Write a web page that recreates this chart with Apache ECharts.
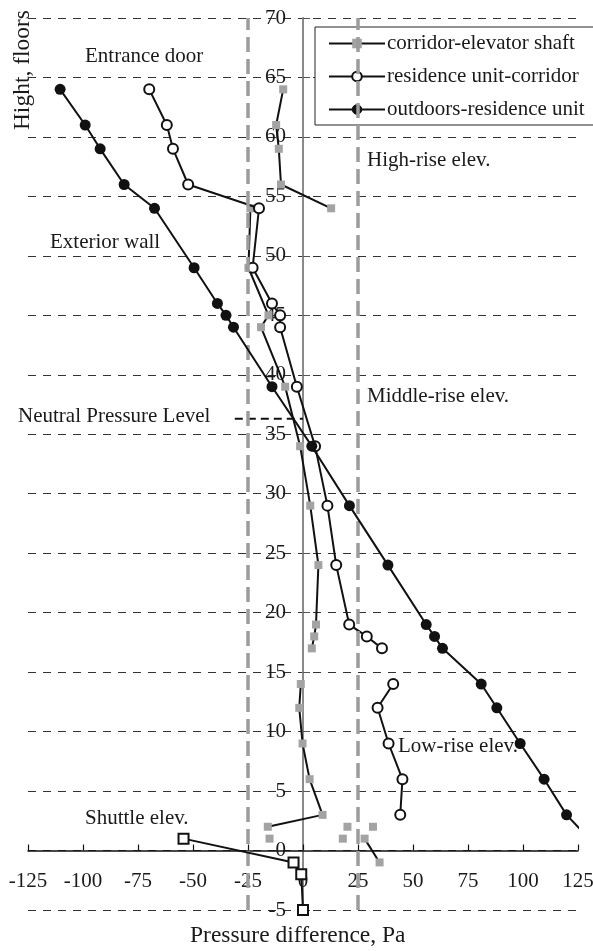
<!DOCTYPE html>
<html><head><meta charset="utf-8">
<script src="https://cdn.jsdelivr.net/npm/echarts@6/dist/echarts.min.js"></script>
<style>html,body{margin:0;padding:0;background:#fff}#c{width:593px;height:951px}</style>
</head><body><div id="c"></div>
<script>
// ---- data ----
const shaftFloors = [64,61,59,56,54,null,54,49,45,44,39,34,29,24,19,18,17,null,14,12,9,6,3,2,null,1,null,2,null,1,null,2,null,1,-1];
const shaftPa     = [-9.0,-12.2,-11.0,-10.0,12.8,null,-23.9,-24.8,-15.7,-19.1,-8.1,-1.3,3.3,7.0,5.9,5.1,4.0,null,-1.0,-1.7,-0.2,3.0,8.9,-16.0,null,-15.2,null,20.2,null,18.1,null,31.8,null,28.0,34.8];

const corridorFloors = [64,61,59,56,54,49,46,45,44,39,34,29,24,19,18,17,null,14,12,9,6,3];
const corridorPa     = [-69.9,-61.9,-59.1,-52.2,-20.0,-22.9,-14.1,-10.4,-10.4,-2.8,5.5,11.1,15.1,21.0,29.0,35.9,null,41.0,33.9,38.9,45.2,44.2];

const outdoorFloors = [64,61,59,56,54,49,46,45,44,39,34,29,24,19,18,17,14,12,9,6,3,1.5];
const outdoorPa     = [-110.4,-99.0,-92.2,-81.3,-67.5,-49.5,-38.9,-35.0,-31.6,-14.1,4.0,21.1,38.6,56.0,59.8,63.4,81.0,88.1,98.7,109.6,119.8,127.5];
const outdoorHiddenLast = true; // the line runs off the chart; its last marker is not shown

const shuttleFloors = [1,-1,-2,-5];
const shuttlePa     = [-54.3,-4.3,-0.8,0];

const zoneBounds = [-25, 25];          // grey dashed verticals
const nplFloor = 36.3;                 // neutral pressure level
const nplPa = [-31, 0];

const xTicks = {min:-125, max:125, interval:25};
const yTicks = {min:-5, max:70, interval:5};

const seriesNames = ['corridor-elevator shaft','residence unit-corridor','outdoors-residence unit'];

// ---- helpers ----
function pairs(xs, ys){ return xs.map((x,i)=> (x===null||ys[i]===null) ? '-' : [x, ys[i]]); }

const FONT = 'Liberation Serif';
const INK = '#1a1a1a';
const GRID = {left:28, right:15, top:18, bottom:41};
const H = 951;

const outdoorData = pairs(outdoorPa, outdoorFloors).map((d,i,arr)=>
  (outdoorHiddenLast && i===arr.length-1) ? {value:d, symbolSize:0} : d);

const txt = (t, left, top, size) => ({type:'text', left, top, style:{text:t, font:size+'px "Liberation Serif"', fill:INK}});

const chart = echarts.init(document.getElementById('c'), null, {renderer:'canvas'});
chart.setOption({
  animation:false,
  backgroundColor:'#fff',
  grid:Object.assign({containLabel:false, outerBoundsMode:'none'}, GRID),
  textStyle:{fontFamily:FONT},
  legend:{
    data:[
      {name:seriesNames[0], itemStyle:{color:'#a3a3a3', borderWidth:0}},
      {name:seriesNames[1], itemStyle:{color:'#fff', borderColor:'#111', borderWidth:2}},
      {name:seriesNames[2], itemStyle:{color:'#111', borderColor:'#111', borderWidth:1}}
    ],
    orient:'vertical',
    left:315, top:27,
    backgroundColor:'#fff',
    borderColor:'#222', borderWidth:1, borderRadius:0,
    padding:[6,12,5,13],
    itemGap:12, itemWidth:56, itemHeight:12,
    textStyle:{fontFamily:FONT, fontSize:21, color:INK, padding:[0,0,0,-3]}
  },
  xAxis:{
    type:'value', min:xTicks.min, max:xTicks.max, interval:xTicks.interval,
    axisLine:{onZero:false, lineStyle:{color:'#111', width:1.5}},
    axisTick:{inside:true, length:6, lineStyle:{color:'#111', width:1.2}},
    axisLabel:{margin:20, fontFamily:FONT, fontSize:21, color:INK},
    splitLine:{show:false}
  },
  yAxis:{
    type:'value', min:yTicks.min, max:yTicks.max, interval:yTicks.interval,
    axisLine:{onZero:false, lineStyle:{color:'#8a8a8a', width:2}},
    axisTick:{inside:true, length:7, lineStyle:{color:'#555', width:1}},
    axisLabel:{margin:17, fontFamily:FONT, fontSize:21, color:INK},
    splitLine:{show:true, lineStyle:{color:'#333', width:1, type:[8,7]}}
  },
  series:[
    {
      name:seriesNames[0], type:'line', data:pairs(shaftPa, shaftFloors),
      symbol:'rect', symbolSize:8, showSymbol:true, showAllSymbol:true, connectNulls:false,
      lineStyle:{color:'#111', width:2},
      itemStyle:{color:'#a3a3a3', borderWidth:0},
      z:3,
      markLine:{
        silent:true, symbol:'none', label:{show:false},
        lineStyle:{color:'#9c9c9c', width:3.5, type:[15,7]},
        data: zoneBounds.map(v=>({xAxis:v}))
      }
    },
    {
      name:seriesNames[1], type:'line', data:pairs(corridorPa, corridorFloors),
      symbol:'circle', symbolSize:10, showAllSymbol:true, connectNulls:false,
      lineStyle:{color:'#111', width:2},
      itemStyle:{color:'#fff', borderColor:'#111', borderWidth:2},
      z:4
    },
    {
      name:seriesNames[2], type:'line', data:outdoorData,
      symbol:'circle', symbolSize:11, showAllSymbol:true, clip:false,
      lineStyle:{color:'#111', width:2},
      itemStyle:{color:'#111', borderColor:'#111', borderWidth:0},
      z:5
    },
    {
      name:'shuttle', type:'line', data:pairs(shuttlePa, shuttleFloors),
      symbol:'rect', symbolSize:10, showAllSymbol:true, clip:false,
      lineStyle:{color:'#111', width:2},
      itemStyle:{color:'#fff', borderColor:'#111', borderWidth:2},
      z:5
    },
    {
      name:'npl', type:'line', data:nplPa.map(x=>[x, nplFloor]),
      symbol:'none', lineStyle:{color:'#111', width:2, type:[8,5]}, z:2
    }
  ],
  graphic:[
    txt('Entrance door', 85, 46, 21),
    txt('Exterior wall', 50, 232, 21),
    txt('High-rise elev.', 367, 150, 21),
    txt('Neutral Pressure Level', 18, 406, 21),
    txt('Middle-rise elev.', 367, 386, 21),
    txt('Low-rise elev.', 398, 736, 21),
    txt('Shuttle elev.', 85, 808, 21),
    txt('Pressure difference, Pa', 190, 924, 23.5),
    {type:'text', left:11, top:10, rotation:Math.PI/2, style:{text:'Hight, floors', font:'23.5px "Liberation Serif"', fill:INK}}
  ]
});

// move both axes (line, ticks, labels) onto the zero of the other axis
const px0 = chart.convertToPixel({xAxisIndex:0}, 0);
const py0 = chart.convertToPixel({yAxisIndex:0}, 0);
chart.setOption({
  xAxis:{offset: py0 - (H - GRID.bottom)},
  yAxis:{offset: GRID.left - px0}
});
</script></body></html>
